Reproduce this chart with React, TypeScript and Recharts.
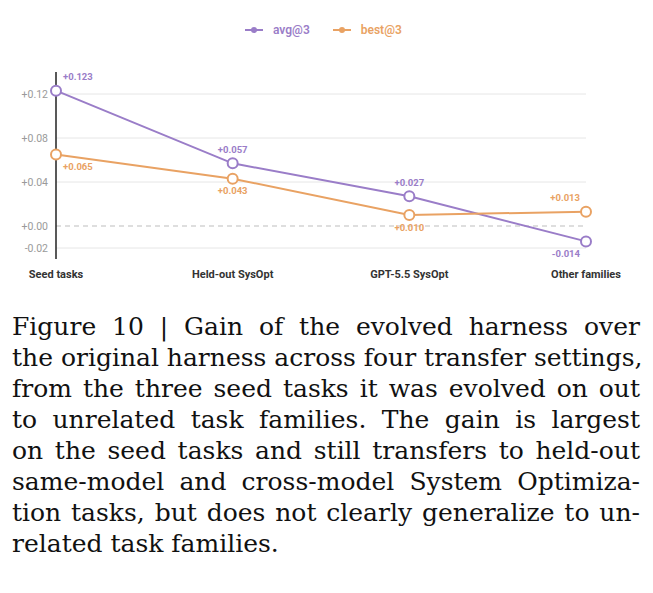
import React from "react";
import { LineChart, Line, XAxis, YAxis, ReferenceLine, LabelList } from "recharts";

const categories = ["Seed tasks", "Held-out SysOpt", "GPT-5.5 SysOpt", "Other families"];
const avgValues = [0.123, 0.057, 0.027, -0.014];
const bestValues = [0.065, 0.043, 0.01, 0.013];
const yTicks = [-0.02, 0.0, 0.04, 0.08, 0.12];
const gridValues = [-0.02, 0.04, 0.08, 0.12];
const seriesNames = ["avg@3", "best@3"];
const captionLines = [
  "Figure 10 | Gain of the evolved harness over",
  "the original harness across four transfer settings,",
  "from the three seed tasks it was evolved on out",
  "to unrelated task families.  The gain is largest",
  "on the seed tasks and still transfers to held-out",
  "same-model and cross-model System Optimiza-",
  "tion tasks, but does not clearly generalize to un-",
  "related task families.",
];

const PURPLE = "#9a7dc8";
const ORANGE = "#e9a263";
const FONT = "Roboto, 'DejaVu Sans', sans-serif";

const data = categories.map((c, i) => ({ name: c, avg: avgValues[i], best: bestValues[i] }));

const fmtVal = (v: number) => (v >= 0 ? "+" + v.toFixed(3) : v.toFixed(3));
const fmtTick = (v: number) => (v >= 0 ? "+" + v.toFixed(2) : v.toFixed(2));

const makeLabel = (series: "avg" | "best", color: string) => (props: any) => {
  const { x, y, value, index } = props;
  const last = index === categories.length - 1;
  let above = series === "avg";
  if (last) above = !above;
  let anchor: "start" | "middle" | "end" = "middle";
  let tx = x;
  if (index === 0) {
    anchor = "start";
    tx = x + 7;
  } else if (last) {
    anchor = "end";
    tx = x - 6;
  }
  const ty = above ? y - 14 : y + 12;
  return (
    <text
      x={tx}
      y={ty}
      textAnchor={anchor}
      dominantBaseline="central"
      fill={color}
      fontFamily={FONT}
      fontWeight={700}
      fontSize={9.5}
    >
      {fmtVal(value)}
    </text>
  );
};

const LegendItem = ({ color, label, gap }: { color: string; label: string; gap: number }) => (
  <div style={{ display: "flex", alignItems: "center", marginRight: gap }}>
    <svg width={18} height={8} style={{ marginRight: 10 }}>
      <line x1={0} y1={4} x2={18} y2={4} stroke={color} strokeWidth={2} />
      <circle cx={9} cy={4} r={3} fill={color} />
    </svg>
    <span style={{ color, fontFamily: FONT, fontWeight: 600, fontSize: 12 }}>{label}</span>
  </div>
);

export default function App() {
  return (
    <div style={{ width: 637 }}>
      <div style={{ position: "relative", width: 637, height: 290 }}>
        <div
          style={{
            position: "absolute",
            top: 15,
            left: 237,
            display: "flex",
          }}
        >
          <LegendItem color={PURPLE} label={seriesNames[0]} gap={23} />
          <LegendItem color={ORANGE} label={seriesNames[1]} gap={0} />
        </div>
        <LineChart width={637} height={290} data={data} margin={{ top: 64, right: 59, bottom: 8, left: 0 }}>
          {gridValues.map((g) => (
            <ReferenceLine key={g} y={g} stroke="#e6e6e6" strokeWidth={1} />
          ))}
          <ReferenceLine y={0} stroke="#bdbdbd" strokeDasharray="5 4" strokeWidth={1} />
          <XAxis
            dataKey="name"
            axisLine={false}
            tickLine={false}
            height={31}
            tickMargin={5}
            interval={0}
            tick={{ fill: "#333", fontFamily: FONT, fontWeight: 700, fontSize: 11 }}
          />
          <YAxis
            width={48}
            domain={[-0.03, 0.14]}
            ticks={yTicks}
            tickFormatter={fmtTick}
            tickLine={false}
            axisLine={{ stroke: "#222", strokeWidth: 1.5 }}
            tick={{ fill: "#9a9a9a", fontFamily: FONT, fontSize: 10.5 }}
          />
          <Line
            type="linear"
            dataKey="avg"
            name={seriesNames[0]}
            stroke={PURPLE}
            strokeWidth={2}
            dot={{ r: 5, fill: "#fff", stroke: PURPLE, strokeWidth: 2 }}
            isAnimationActive={false}
          >
            <LabelList dataKey="avg" content={makeLabel("avg", PURPLE)} />
          </Line>
          <Line
            type="linear"
            dataKey="best"
            name={seriesNames[1]}
            stroke={ORANGE}
            strokeWidth={2}
            dot={{ r: 5, fill: "#fff", stroke: ORANGE, strokeWidth: 2 }}
            isAnimationActive={false}
          >
            <LabelList dataKey="best" content={makeLabel("best", ORANGE)} />
          </Line>
        </LineChart>
      </div>
      <div
        style={{
          marginTop: 13,
          paddingLeft: 4,
          width: 628,
          fontFamily: "'DejaVu Serif', serif",
          fontSize: 25,
          lineHeight: "31px",
          color: "#111",
        }}
      >
        {captionLines.map((l, i) => (
          <div
            key={i}
            style={{
              whiteSpace: "nowrap",
              textAlign: i === captionLines.length - 1 ? "left" : "justify",
              textAlignLast: i === captionLines.length - 1 ? "left" : "justify",
            }}
          >
            {l}
          </div>
        ))}
      </div>
    </div>
  );
}
